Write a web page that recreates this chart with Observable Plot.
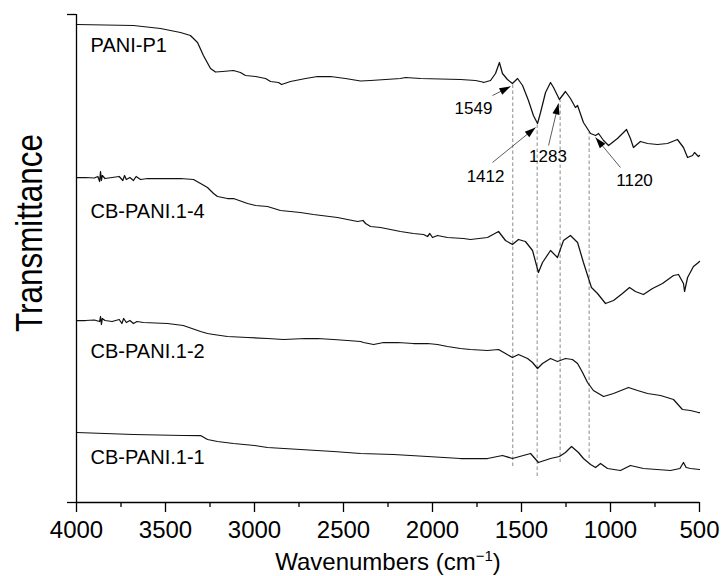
<!DOCTYPE html>
<html>
<head>
<meta charset="utf-8">
<script src="https://cdn.jsdelivr.net/npm/d3@7"></script>
<script src="https://cdn.jsdelivr.net/npm/@observablehq/plot@0.6"></script>
<style>
  html, body { margin: 0; padding: 0; background: #fff; }
</style>
</head>
<body>
<div id="chart"></div>
<script>
// ---- data: [wavenumber (cm-1), transmittance (a.u., offset-stacked)] ----
const pani_p1 = [[4000,478],[3680,477],[3528,474],[3416,470],[3360,467],[3320,460],[3287,447],[3247,434],[3219,430.5],[3180,431],[3118,432],[3079,430],[3051,427],[2994,426],[2938,424],[2910,421],[2865,420],[2848,418],[2798,421],[2713,424],[2646,426],[2573,426],[2489,424],[2404,421.5],[2348,422],[2264,423],[2180,424],[2152,425],[2067,424],[1955,423.5],[1843,423],[1758,422],[1719,420.5],[1713,420],[1674,422],[1646,429],[1624,440],[1607,429],[1579,423],[1551,419],[1522,424],[1494,417],[1461,402],[1433,387],[1410,379],[1393,390],[1365,410],[1337,420],[1320,415],[1287,403],[1253,411],[1225,404],[1197,395],[1185,397],[1152,380],[1112,369],[1084,367],[1067,369],[1039,362],[1011,357],[961,364],[910,373],[888,364],[871,355],[832,361],[792,359],[736,358],[680,359],[624,363],[590,355],[567,345],[539,347],[528,350],[506,346],[500,347]];
const cb_pani_14 = [[4000,325],[3950,325],[3900,324.5],[3880,326],[3870,321],[3865,331],[3860,322],[3855,327],[3840,324],[3800,325],[3760,326],[3740,322],[3730,327],[3720,323],[3700,325],[3680,322],[3665,326],[3640,323],[3600,324],[3500,324],[3416,324],[3343,323],[3303,319],[3264,315],[3230,309],[3208,306],[3152,304],[3118,304],[3039,299],[2994,297],[2927,296],[2854,292],[2742,290],[2669,288],[2534,285],[2421,281],[2390,282],[2376,279],[2348,276],[2292,275],[2180,271],[2107,269],[2050,268],[2028,266],[2015,269],[2000,265],[1972,267],[1916,265],[1826,264],[1787,263],[1691,265],[1629,271],[1590,262],[1551,258],[1517,263],[1478,261],[1438,252],[1405,230],[1382,240],[1337,252],[1298,245],[1264,262],[1225,267],[1185,260],[1152,240],[1107,215],[1073,209],[1028,199],[983,202],[933,209],[893,215],[860,211],[815,208],[764,214],[708,219],[646,227],[618,228],[590,219],[584,211],[567,225],[534,236],[506,240],[500,241]];
const cb_pani_12 = [[4000,182],[3950,182],[3900,182.5],[3870,181],[3865,186],[3860,178],[3855,184],[3840,182],[3800,181],[3760,183],[3745,179],[3735,184],[3720,180],[3700,182],[3680,179],[3660,181],[3624,180],[3489,179],[3400,177],[3303,171],[3264,169],[3230,168],[3152,166],[3039,165],[2927,164],[2837,163],[2713,164],[2646,164],[2556,163],[2478,162],[2404,161],[2388,160],[2331,158],[2275,160],[2197,160],[2107,159],[2028,159],[1972,158],[1916,156],[1843,154],[1787,153],[1691,152],[1629,153],[1590,149],[1551,145],[1517,148],[1466,144],[1438,140],[1410,134],[1382,139],[1337,144],[1298,141],[1253,144],[1214,143],[1185,139],[1157,130],[1129,120],[1096,112],[1039,106],[983,109],[899,115],[848,112],[792,109],[719,107],[646,103],[596,93],[551,92],[506,90],[500,90]];
const cb_pani_11 = [[4000,70],[3680,68],[3400,67],[3303,67],[3264,63],[3208,61],[3118,59],[3000,57],[2927,55],[2742,53],[2556,51],[2404,49],[2219,48],[2028,46],[1843,44],[1691,44],[1607,47],[1551,44],[1449,49],[1405,40],[1337,44],[1287,46],[1253,50],[1219,56],[1180,50],[1152,44],[1112,38],[1084,35],[1056,39],[1017,34],[944,32],[888,37],[815,34],[663,32],[610,34],[590,40],[575,35],[551,34],[500,33]];

const seriesNames = ["PANI-P1", "CB-PANI.1-4", "CB-PANI.1-2", "CB-PANI.1-1"];
const seriesData = [pani_p1, cb_pani_14, cb_pani_12, cb_pani_11];
// label positions (wavenumber, transmittance)
const labelX = [3921, 3921, 3921, 3921];
const labelY = [456.5, 290.5, 150.5, 45];

// marked bands and guide lines
const bands = [1549, 1412, 1283, 1120];
const bandTop = [419, 378, 402, 370];
const bandBottom = [36, 26, 40, 44];
// annotation text positions and arrows
const bandLabelX = [1770, 1702, 1351, 865];
const bandLabelY = [394, 326, 345.5, 322];
const arrowFromX = [1663, 1663, 1348, 944];
const arrowFromY = [407, 340, 357, 335];
const arrowToX = [1562, 1421, 1292, 1084];
const arrowToY = [416, 375, 399, 365];

const xMajor = [4000, 3500, 3000, 2500, 2000, 1500, 1000, 500];
const xMinor = [3750, 3250, 2750, 2250, 1750, 1250, 750];
const yEnds = [0, 488];

// ---- layout ----
const W = 723, H = 576, mL = 76, mR = 24, mT = 14, mB = 74;
const xDomain = [4000, 500], yDomain = [0, 488];

const rows = seriesNames.flatMap((name, i) => seriesData[i].map(([wn, t]) => ({name, wn, t})));
const labels = seriesNames.map((name, i) => ({name, x: labelX[i], y: labelY[i]}));
const ann = bands.map((b, i) => {
  const pxPerX = (W - mL - mR) / (xDomain[1] - xDomain[0]);
  const pxPerY = -(H - mT - mB) / (yDomain[1] - yDomain[0]);
  const dx = (arrowToX[i] - arrowFromX[i]) * pxPerX;
  const dy = (arrowToY[i] - arrowFromY[i]) * pxPerY;
  return {
    band: b, top: bandTop[i], bottom: bandBottom[i],
    lx: bandLabelX[i], ly: bandLabelY[i], text: String(b),
    x1: arrowFromX[i], y1: arrowFromY[i], x2: arrowToX[i], y2: arrowToY[i],
    angle: Math.atan2(dx, -dy) * 180 / Math.PI
  };
});

const arrowHead = {
  draw(context) {
    const L = 11, w = 3.6;
    context.moveTo(0, 0);
    context.lineTo(w, L);
    context.lineTo(-w, L);
    context.closePath();
  }
};

const svg = Plot.plot({
  width: W, height: H,
  marginLeft: mL, marginRight: mR, marginTop: mT, marginBottom: mB,
  x: {domain: xDomain},
  y: {domain: yDomain},
  style: {fontFamily: "'Liberation Sans', Arial, sans-serif", background: "#fff", color: "#000"},
  marks: [
    Plot.ruleX(ann, {x: "band", y1: "bottom", y2: "top", stroke: "#8a8a8a", strokeWidth: 1, strokeDasharray: "3.5,2.5"}),
    Plot.line(rows, {x: "wn", y: "t", z: "name", stroke: "#111", strokeWidth: 1.25, curve: "linear"}),
    Plot.link(ann, {x1: "x1", y1: "y1", x2: "x2", y2: "y2", stroke: "#333", strokeWidth: 0.8}),
    Plot.dot(ann, {x: "x2", y: "y2", symbol: arrowHead, r: 4, fill: "#000", stroke: "none", rotate: "angle"}),
    Plot.text(ann, {x: "lx", y: "ly", text: "text", fontSize: 17, fill: "#000"}),
    Plot.text(labels, {x: "x", y: "y", text: "name", fontSize: 20, textAnchor: "start", fill: "#000"}),
    Plot.ruleX([4000], {stroke: "#000", strokeWidth: 1.3}),
    Plot.ruleY([0], {stroke: "#000", strokeWidth: 1.3}),
    Plot.axisX({ticks: xMajor, tickSize: 10, tickPadding: 8, fontSize: 24, tickFormat: d => String(d), strokeWidth: 1.3, label: null}),
    Plot.axisX({ticks: xMinor, tickSize: 5, tickFormat: () => "", strokeWidth: 1.3, label: null}),
    Plot.axisY({ticks: yEnds, tickSize: 9, tickFormat: () => "", strokeWidth: 1.3, label: null}),
    Plot.text(["Wavenumbers (cm-1)"], {frameAnchor: "bottom", textAnchor: "middle", lineAnchor: "middle", dy: 60, fontSize: 24, fill: "#000"}),
    Plot.text(["Transmittance"], {frameAnchor: "left", textAnchor: "middle", lineAnchor: "middle", dx: -46, dy: -25.5, rotate: -90, fontSize: 37, fill: "#000"})
  ]
});

// rich text: superscript in x title, condensed y title
svg.querySelectorAll("text").forEach(t => {
  if (t.textContent === "Wavenumbers (cm-1)") {
    t.textContent = "";
    const ns = "http://www.w3.org/2000/svg";
    const a = document.createElementNS(ns, "tspan"); a.textContent = "Wavenumbers (cm";
    const b = document.createElementNS(ns, "tspan"); b.textContent = "\u22121"; b.setAttribute("dy", "-9"); b.setAttribute("font-size", "15");
    const c = document.createElementNS(ns, "tspan"); c.textContent = ")"; c.setAttribute("dy", "9");
    t.append(a, b, c);
  } else if (t.textContent === "Transmittance") {
    t.setAttribute("textLength", "198");
    t.setAttribute("lengthAdjust", "spacingAndGlyphs");
  }
});

document.getElementById("chart").appendChild(svg);
</script>
</body>
</html>
